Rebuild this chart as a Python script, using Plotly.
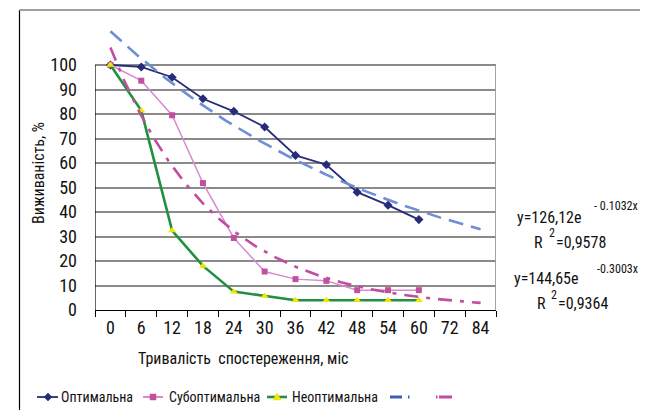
import numpy as np
import plotly.graph_objects as go

categories = ["0", "6", "12", "18", "24", "30", "36", "42", "48", "54", "60", "72", "84"]
optimal = [100, 99.2, 95, 86.2, 81.1, 74.7, 63.1, 59.3, 48.1, 42.8, 36.9]
suboptimal = [100, 93.6, 79.5, 51.8, 29.4, 15.7, 12.6, 11.9, 8.1, 8.1, 8.1]
nonoptimal = [100, 81.4, 32.4, 18.0, 7.5, 5.7, 4.0, 4.0, 4.0, 4.0, 4.0]
series_names = ["Оптимальна", "Субоптимальна", "Неоптимальна"]
trend_a = [126.12, 144.65]
trend_b = [-0.1032, -0.3003]
y_ticks = [0, 10, 20, 30, 40, 50, 60, 70, 80, 90, 100]

FONT = "Roboto Condensed, Liberation Sans, sans-serif"
TXT = "#111111"
C_OPT, C_SUB_L, C_SUB_M, C_NEO, C_NEO_M = "#262c7a", "#d98bd0", "#c2509f", "#22903f", "#f2e600"
C_TR1, C_TR2 = "#6d8fd4", "#c24da0"

# figure is drawn inside the page's 8px body margin (kept small enough to avoid scrolling)
W, H = 632, 402
L, R, T, B = 87, 144, 18, 100
PW, PH = W - L - R, H - T - B
Y_TOP = PH / 2.45


def px(x):
    return (x - L) / PW


def py(y):
    return (H - B - y) / PH


xi = list(range(len(categories)))
fig = go.Figure()

fig.add_trace(go.Scatter(
    x=xi[:len(optimal)], y=optimal, name=series_names[0], mode="lines+markers",
    line=dict(color=C_OPT, width=1.8),
    marker=dict(symbol="diamond", size=7, color=C_OPT), cliponaxis=False))
fig.add_trace(go.Scatter(
    x=xi[:len(suboptimal)], y=suboptimal, name=series_names[1], mode="lines+markers",
    line=dict(color=C_SUB_L, width=1.5),
    marker=dict(symbol="square", size=6, color=C_SUB_M), cliponaxis=False))
fig.add_trace(go.Scatter(
    x=xi[:len(nonoptimal)], y=nonoptimal, name=series_names[2], mode="lines+markers",
    line=dict(color=C_NEO, width=2.6),
    marker=dict(symbol="triangle-up", size=7, color=C_NEO_M), cliponaxis=False))

xt = np.linspace(0, len(categories) - 1, 200)
fig.add_trace(go.Scatter(
    x=xt, y=trend_a[0] * np.exp(trend_b[0] * (xt + 1)), mode="lines",
    line=dict(color=C_TR1, width=2.6, dash="15px,8px")))
fig.add_trace(go.Scatter(
    x=xt, y=trend_a[1] * np.exp(trend_b[1] * (xt + 1)), mode="lines",
    line=dict(color=C_TR2, width=2.6, dash="14px,8px,4px,8px")))

fig.update_xaxes(
    range=[-0.5, len(categories) - 0.5], tickvals=xi, ticktext=categories,
    showgrid=False, zeroline=False, showline=True, linecolor="#000000", linewidth=1.2,
    ticks="", ticklabelstandoff=1, tickfont=dict(family=FONT, size=18, color=TXT),
    minor=dict(tickvals=[i - 0.5 for i in range(len(categories) + 1)], ticks="outside",
               ticklen=6, tickcolor="#000000", tickwidth=1, showgrid=False),
)
fig.update_yaxes(
    range=[0, Y_TOP], tickvals=y_ticks, ticktext=[str(v) for v in y_ticks],
    showgrid=True, gridcolor="#8a8a8a", gridwidth=1.6, zeroline=False, showline=False,
    ticks="", ticklabelstandoff=17, tickfont=dict(family=FONT, size=18, color=TXT),
)

shapes = [
    dict(type="line", xref="x", yref="y", x0=-0.5, x1=-0.5, y0=0, y1=100,
         line=dict(color="#000000", width=1.2)),
    dict(type="line", xref="x", yref="y", x0=len(categories) - 0.5, x1=len(categories) - 0.5, y0=0, y1=100,
         line=dict(color="#9a9a9a", width=1.8)),
    dict(type="line", xref="paper", yref="paper", x0=px(11.5), x1=px(11.5), y0=py(H), y1=py(2),
         line=dict(color="#000000", width=1.2)),
    dict(type="line", xref="paper", yref="paper", x0=px(11.5), x1=px(W), y0=py(2), y1=py(2),
         line=dict(color="#a0a0a0", width=2)),
]

# legend (drawn by hand so it stays on one row like the original)
LY = 389


def seg(x0, x1, color, width):
    return dict(type="line", xref="paper", yref="paper", x0=px(x0), x1=px(x1), y0=py(LY), y1=py(LY),
                line=dict(color=color, width=width))


def poly(points, color):
    d = "M " + " L ".join(f"{px(a)},{py(b)}" for a, b in points) + " Z"
    return dict(type="path", xref="paper", yref="paper", path=d, fillcolor=color,
                line=dict(color=color, width=0.5))


shapes += [
    seg(29, 50, C_OPT, 1.8),
    poly([(40, LY - 4), (44, LY), (40, LY + 4), (36, LY)], C_OPT),
    seg(135, 155, C_SUB_L, 2),
    poly([(142, LY - 3), (148, LY - 3), (148, LY + 3), (142, LY + 3)], C_SUB_M),
    seg(259, 279, C_NEO, 2.6),
    poly([(269, LY - 4), (273, LY + 3), (265, LY + 3)], C_NEO_M),
    seg(382, 394, "#3d5fb8", 3),
    seg(400, 401.5, "#3d5fb8", 3),
    seg(428, 429.5, C_TR2, 3),
    seg(431, 444, C_TR2, 3),
]

ann_font = dict(family=FONT, size=16, color=TXT)
sup_font = dict(family=FONT, size=12, color=TXT)
leg_font = dict(family=FONT, size=14, color=TXT)


def txt(x, y, s, font, anchor="left", angle=0):
    return dict(xref="paper", yref="paper", x=px(x), y=py(y), text=s, textangle=angle,
                showarrow=False, xanchor=anchor, yanchor="middle", font=font)


annotations = [
    txt(30, 165, "Виживаність, %", dict(family=FONT, size=16, color=TXT), "center", -90),
    txt(235, 350, "Тривалість  спостереження, міс", dict(family=FONT, size=16, color=TXT), "center"),
    txt(507, 209, "y=126,12e", ann_font),
    txt(632, 198, "- 0.1032x", sup_font, "right"),
    txt(524, 234, "R", ann_font),
    txt(539, 225, "2", sup_font),
    txt(546, 234, "=0,9578", ann_font),
    txt(504, 270, "y=144,65e", ann_font),
    txt(632, 261, "-0.3003x", sup_font, "right"),
    txt(527, 295, "R", ann_font),
    txt(541, 287, "2", sup_font),
    txt(548, 295, "=0,9364", ann_font),
    txt(51, LY, series_names[0], leg_font),
    txt(159, LY, series_names[1], leg_font),
    txt(282, LY, series_names[2], leg_font),
]

fig.update_layout(
    width=W, height=H,
    margin=dict(l=L, r=R, t=T, b=B, autoexpand=False),
    paper_bgcolor="white", plot_bgcolor="white",
    shapes=shapes, annotations=annotations,
    showlegend=False,
)

fig.write_html("out.html", config={"displayModeBar": False})
